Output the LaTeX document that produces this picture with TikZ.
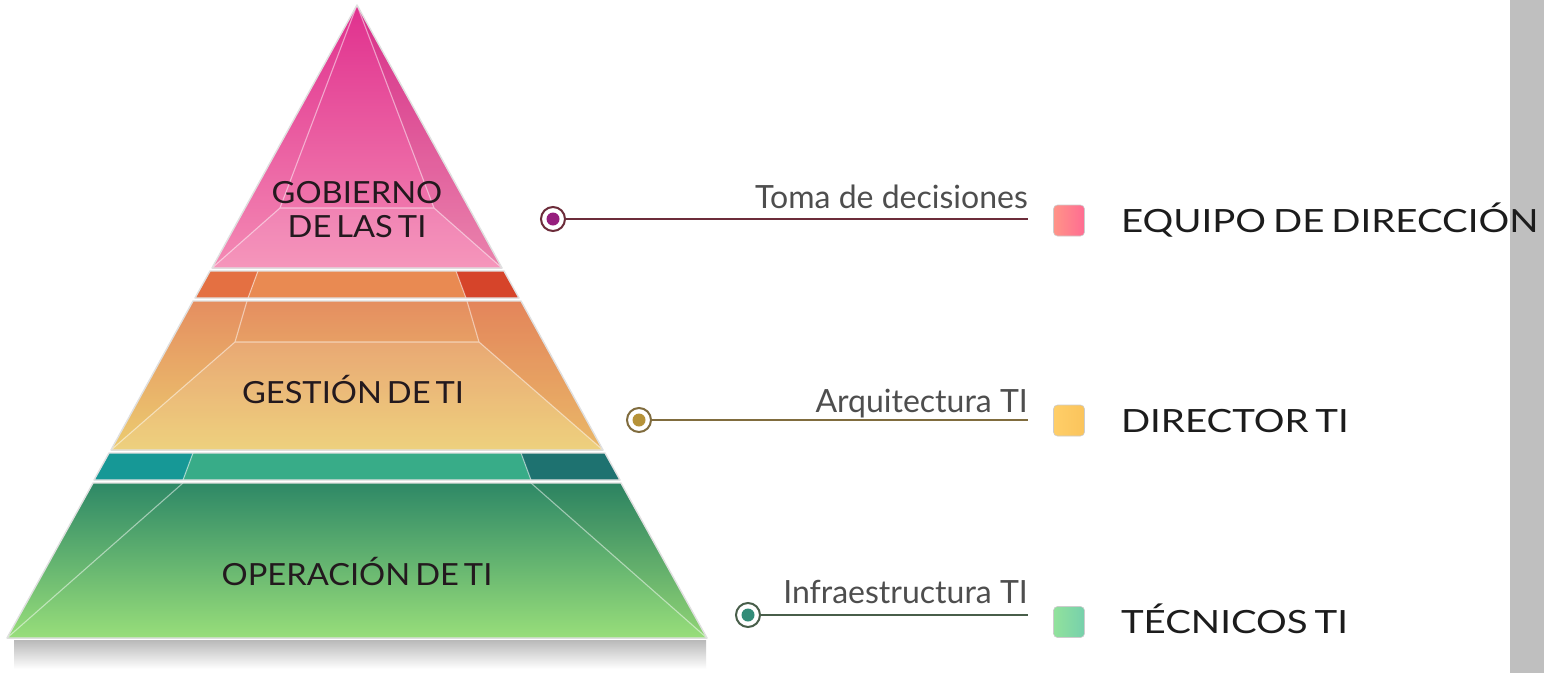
\documentclass[tikz,border=0pt]{standalone}
\usepackage{fontspec}
\setmainfont{Lato}
\newfontfamily\rolefont[FakeStretch=1.2, WordSpace=0.7]{Lato}
\newfontfamily\tierfont[FakeStretch=1.07, WordSpace=0.6]{Lato}
\usetikzlibrary{positioning}

\definecolor{pinkTop}{RGB}{224,48,142}
\definecolor{pinkBot}{RGB}{244,138,180}
\definecolor{stripL}{RGB}{228,112,66}
\definecolor{stripM}{RGB}{233,138,82}
\definecolor{stripR}{RGB}{214,68,42}
\definecolor{gestTop}{RGB}{229,142,96}
\definecolor{gestBot}{RGB}{236,204,112}
\definecolor{gestSide}{RGB}{224,96,70}
\definecolor{tealL}{RGB}{22,152,150}
\definecolor{tealM}{RGB}{56,172,136}
\definecolor{tealR}{RGB}{30,114,112}
\definecolor{greenTop}{RGB}{46,136,102}
\definecolor{greenBot}{RGB}{152,222,122}
\definecolor{tierInk}{RGB}{35,25,30}
\definecolor{tagInk}{RGB}{78,78,78}
\definecolor{roleInk}{RGB}{28,28,28}
\definecolor{sideBar}{RGB}{191,191,191}
\definecolor{leadA}{RGB}{108,44,58}
\definecolor{leadB}{RGB}{128,108,62}
\definecolor{leadC}{RGB}{72,94,74}
\definecolor{dotA}{RGB}{150,30,125}
\definecolor{dotB}{RGB}{182,146,56}
\definecolor{dotC}{RGB}{50,140,120}
\definecolor{swALeft}{RGB}{255,148,136}
\definecolor{swARight}{RGB}{255,108,146}
\definecolor{swBLeft}{RGB}{255,206,104}
\definecolor{swBRight}{RGB}{250,196,92}
\definecolor{swCLeft}{RGB}{146,226,156}
\definecolor{swCRight}{RGB}{118,208,172}

\begin{document}
\begin{tikzpicture}[x=1pt,y=-1pt,
    tier/.style={draw=white!88!black, line width=1.4pt, line join=round},
    facet/.style={draw=white, draw opacity=0.5, line width=1.1pt},
    face shade/.style={fill=black, fill opacity=0.04},
    face light/.style={fill=white, fill opacity=0.10},
    tier text/.style={font=\tierfont\fontsize{30.5}{34}\selectfont, text=tierInk, anchor=base, inner sep=0pt},
    tag text/.style={font=\fontsize{32}{36}\selectfont, text=tagInk, anchor=base east, inner sep=0pt},
    role text/.style={font=\rolefont\fontsize{32}{36}\selectfont, text=roleInk, inner sep=0pt, text height=23pt, text depth=0pt},
    swatch/.style={draw=black!20, line width=0.6pt, rounded corners=4pt, minimum size=31pt, inner sep=0pt},
    ring/.style={circle, draw=#1, fill=white, line width=2pt, minimum size=24pt, inner sep=0pt},
    lead/.style={draw=#1, line width=1.8pt}]
\useasboundingbox (0,0) rectangle (1544,673);
\fill[white] (0,0) rectangle (1544,673);
\fill[sideBar] (1510,0) rectangle (1544,673);

% shadow under the base
\fill[top color=gray!55, bottom color=white] (14,640) rectangle (706,669);

% gobierno
\fill[top color=pinkTop, bottom color=pinkBot] (357,5) -- (502,268) -- (212,268) -- cycle;
\fill[face light] (280,208) -- (434,208) -- (502,268) -- (212,268) -- cycle;
\fill[face shade] (357,5) -- (434,208) -- (502,268) -- cycle;
\draw[facet] (357,5) -- (280,208) -- (212,268) (357,5) -- (434,208) -- (502,268) (280,208) -- (434,208);
\draw[tier] (357,5) -- (502,268) -- (212,268) -- cycle;

% gestion, thin strip
\fill[stripL] (210,271) -- (258,271) -- (248,298) -- (195,298) -- cycle;
\fill[stripM] (258,271) -- (456,271) -- (466,298) -- (248,298) -- cycle;
\fill[stripR] (456,271) -- (504,271) -- (519,298) -- (466,298) -- cycle;
\draw[facet] (258,271) -- (248,298) (456,271) -- (466,298);
\draw[tier] (210,271) -- (504,271) -- (519,298) -- (195,298) -- cycle;

% gestion, main block
\fill[top color=gestTop, bottom color=gestBot] (193,301) -- (521,301) -- (603,450) -- (111,450) -- cycle;
\fill[face light] (235,342) -- (479,342) -- (603,450) -- (111,450) -- cycle;
\fill[gestSide, fill opacity=0.18] (467,301) -- (521,301) -- (603,450) -- (479,342) -- cycle;
\draw[facet] (247,301) -- (235,342) -- (111,450) (467,301) -- (479,342) -- (603,450) (235,342) -- (479,342);
\draw[tier] (193,301) -- (521,301) -- (603,450) -- (111,450) -- cycle;

% operacion, thin strip
\fill[tealL] (109,453) -- (193,453) -- (183,480) -- (94,480) -- cycle;
\fill[tealM] (193,453) -- (521,453) -- (531,480) -- (183,480) -- cycle;
\fill[tealR] (521,453) -- (605,453) -- (620,480) -- (531,480) -- cycle;
\draw[facet] (193,453) -- (183,480) (521,453) -- (531,480);
\draw[tier] (109,453) -- (605,453) -- (620,480) -- (94,480) -- cycle;

% operacion, main block
\fill[top color=greenTop, bottom color=greenBot] (93,483) -- (621,483) -- (707,638) -- (7,638) -- cycle;
\fill[face shade] (531,483) -- (621,483) -- (707,638) -- cycle;
\draw[facet] (183,483) -- (7,638) (531,483) -- (707,638);
\draw[tier] (93,483) -- (621,483) -- (707,638) -- (7,638) -- cycle;

\node[tier text] (gobA) at (357,203) {GOBIERNO};
\node[tier text] (gobB) at (357,237) {DE LAS TI};
\node[tier text] (gest) at (353,403) {GESTIÓN DE TI};
\node[tier text] (oper) at (357,585) {OPERACIÓN DE TI};

% toma de decisiones
\node[ring=leadA] (ringA) at (553,219) {};
\fill[dotA] (ringA.center) circle (6.5);
\coordinate (endA) at (1028,219);
\draw[lead=leadA] (ringA) -- (endA);
\path (endA) ++(0,-11) node[tag text] (tagA) {Toma de decisiones};
\node[swatch, left color=swALeft, right color=swARight] (swA) at (1069,220.5) {};
\node[role text, right=36pt of swA] (roleA) {EQUIPO DE DIRECCIÓN};

% arquitectura
\node[ring=leadB] (ringB) at (639,420) {};
\fill[dotB] (ringB.center) circle (6.5);
\coordinate (endB) at (1028,420);
\draw[lead=leadB] (ringB) -- (endB);
\path (endB) ++(0,-8) node[tag text] (tagB) {Arquitectura TI};
\node[swatch, left color=swBLeft, right color=swBRight] (swB) at (1069,420.5) {};
\node[role text, right=36pt of swB] (roleB) {DIRECTOR TI};

% infraestructura
\node[ring=leadC] (ringC) at (748,615) {};
\fill[dotC] (ringC.center) circle (6.5);
\coordinate (endC) at (1028,615);
\draw[lead=leadC] (ringC) -- (endC);
\path (endC) ++(0,-12) node[tag text] (tagC) {Infraestructura TI};
\node[swatch, left color=swCLeft, right color=swCRight] (swC) at (1069,622) {};
\node[role text, right=36pt of swC] (roleC) {TÉCNICOS TI};
\end{tikzpicture}
\end{document}
